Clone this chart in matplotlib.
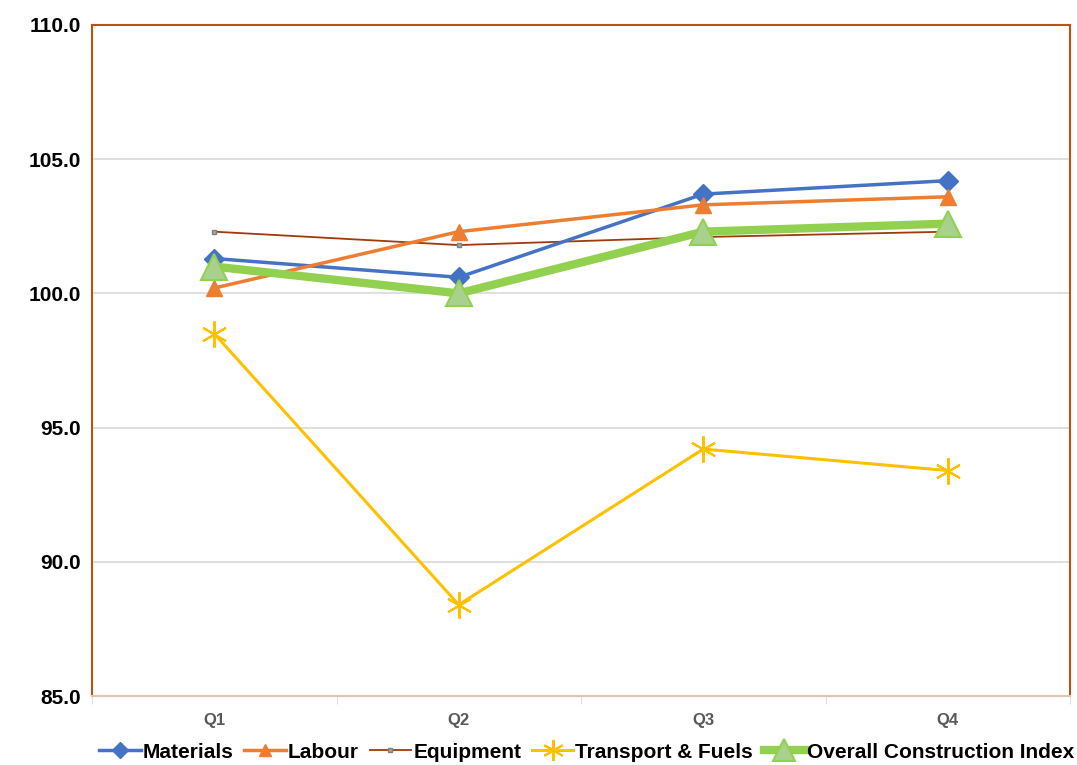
import matplotlib
matplotlib.use("Agg")
import matplotlib.pyplot as plt
import numpy as np

plt.rcParams["font.family"] = ["Liberation Sans Narrow", "Liberation Sans", "DejaVu Sans"]

quarters = ["Q1", "Q2", "Q3", "Q4"]
materials = [101.3, 100.6, 103.7, 104.2]
labour = [100.2, 102.3, 103.3, 103.6]
equipment = [102.3, 101.8, 102.1, 102.3]
transport = [98.5, 88.4, 94.2, 93.4]
overall = [101.0, 100.0, 102.3, 102.6]

x = np.arange(len(quarters))

fig = plt.figure(figsize=(10.77, 7.65), dpi=100)
ax = fig.add_axes([92 / 1077, 1 - 696 / 765, (1070 - 92) / 1077, (696 - 25) / 765])

ax.plot(x, materials, color="#4472C4", lw=2.5, marker="D", ms=10, label="Materials", zorder=4)
ax.plot(x, labour, color="#ED7D31", lw=2.5, marker="^", ms=11, label="Labour", zorder=4)
ax.plot(x, equipment, color="#9E3A0C", lw=1.3, marker="s", ms=3,
        mfc="#A5A5A5", mec="#808080", label="Equipment", zorder=3)
ax.plot(x, transport, color="#FFC000", lw=2.2, marker=(6, 2, 0), ms=19, mew=1.5,
        label="Transport & Fuels", zorder=4)
ax.plot(x, overall, color="#92D050", lw=6, marker="^", ms=19, mfc="#A9D18E",
        mec="#92D050", mew=1.5, label="Overall Construction Index", zorder=5)

ax.set_xlim(-0.5, 3.5)
ax.set_ylim(85, 110)
ax.set_yticks(np.arange(85, 111, 5))
ax.set_yticklabels([f"{v:.1f}" for v in np.arange(85, 111, 5)], fontsize=15, fontweight="bold")
ax.set_xticks(x)
ax.set_xticklabels(quarters, fontsize=12, fontweight="bold", color="#595959")
ax.tick_params(axis="x", length=0, pad=12)
ax.tick_params(axis="y", length=0, pad=8)
ax.set_xticks(np.arange(-0.5, 4.0, 1.0), minor=True)
ax.tick_params(axis="x", which="minor", length=6, color="#D9D9D9")

ax.grid(axis="y", color="#D9D9D9", lw=1.2)
ax.set_axisbelow(True)
for side in ["left", "top", "right"]:
    ax.spines[side].set_color("#B8540F")
    ax.spines[side].set_linewidth(1.5)
ax.spines["bottom"].set_color("#E8C4B0")
ax.spines["bottom"].set_linewidth(1.5)

leg = fig.legend(loc="lower center", bbox_to_anchor=(0.545, -0.02), ncol=5, frameon=False,
                 prop={"size": 15, "weight": "bold"}, handlelength=2.0, handletextpad=0.1,
                 columnspacing=0.5, markerscale=0.8)

fig.savefig("out.png", dpi=100)
